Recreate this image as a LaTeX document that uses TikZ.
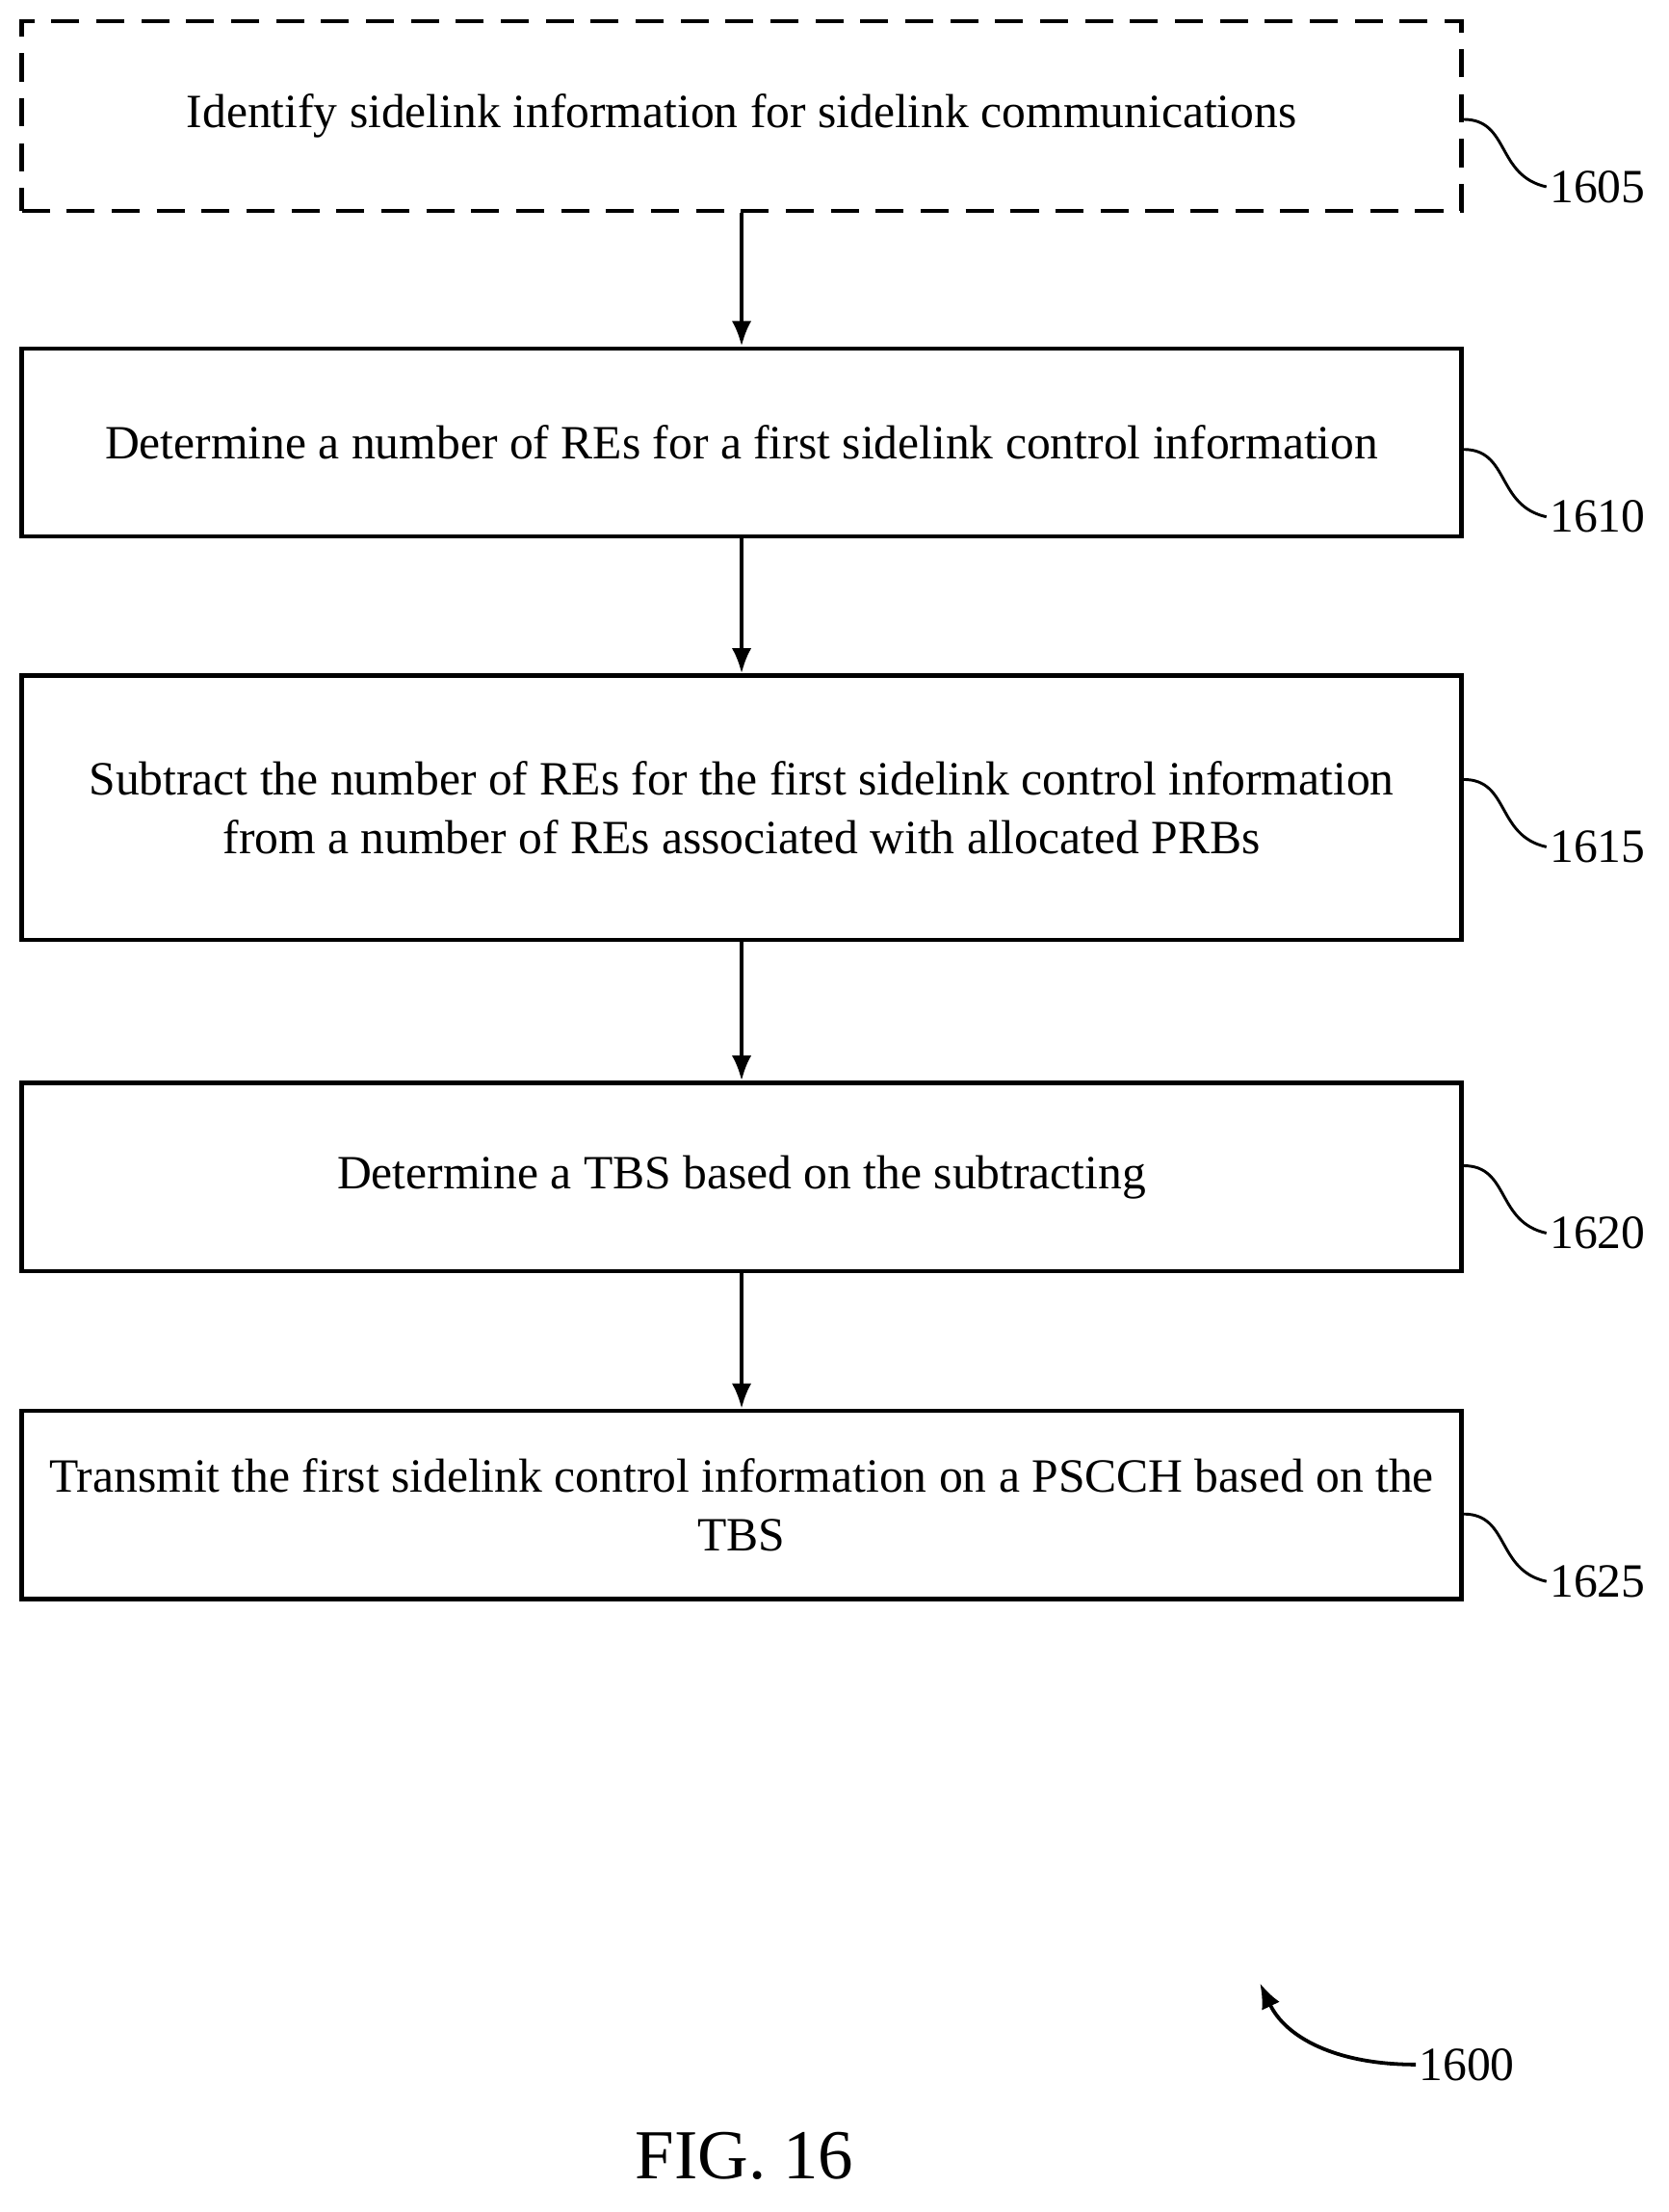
\documentclass[tikz,border=0pt]{standalone}
\usepackage{fontspec}
\setmainfont{Liberation Serif}
\usetikzlibrary{arrows.meta}
\begin{document}
\begin{tikzpicture}[x=0.5pt,y=-0.5pt,
 box/.style={draw,line width=1.5pt,minimum width=512.5pt,align=center,font=\fontsize{17}{21}\selectfont,inner sep=0pt},
 arr/.style={-{Latex[length=9pt,width=7pt]},line width=1.3pt},
 lbl/.style={font=\fontsize{17}{20}\selectfont,anchor=west,inner sep=1pt},
 sq/.style={line width=1pt}]
\useasboundingbox (0,0) rectangle (1188,1575);
\node[box,dashed,dash pattern=on 10pt off 6pt,minimum height=67.5pt] (b1) at (528,82.5) {Identify sidelink information for sidelink communications};
\node[box,minimum height=67pt] (b2) at (528,315) {Determine a number of REs for a first sidelink control information};
\node[box,minimum height=94pt] (b3) at (528,575) {Subtract the number of REs for the first sidelink control information\\from a number of REs associated with allocated PRBs};
\node[box,minimum height=67pt] (b4) at (528,838) {Determine a TBS based on the subtracting};
\node[box,minimum height=67pt] (b5) at (528,1071.5) {Transmit the first sidelink control information on a PSCCH based on the\\TBS};
\draw[arr] (b1) -- (b2);
\draw[arr] (b2) -- (b3);
\draw[arr] (b3) -- (b4);
\draw[arr] (b4) -- (b5);
\foreach \n/\t/\y in {b1/1605/85,b2/1610/320,b3/1615/555,b4/1620/830,b5/1625/1078}{
 \node[lbl] (l\t) at (1101,\y+48) {\t};
 \draw[sq] (\n.east |- 0,\y) .. controls (1075,\y) and (1065,\y+40) .. (l\t.west);
}
\node[lbl] (l1600) at (1008,1470) {1600};
\draw[-{Latex[length=9pt,width=7pt]},line width=1.3pt] (l1600.west) .. controls (950,1470) and (915,1450) .. (897,1412);
\node[font=\fontsize{25}{28}\selectfont] (fig) at (530,1535) {FIG. 16};
\end{tikzpicture}
\end{document}
